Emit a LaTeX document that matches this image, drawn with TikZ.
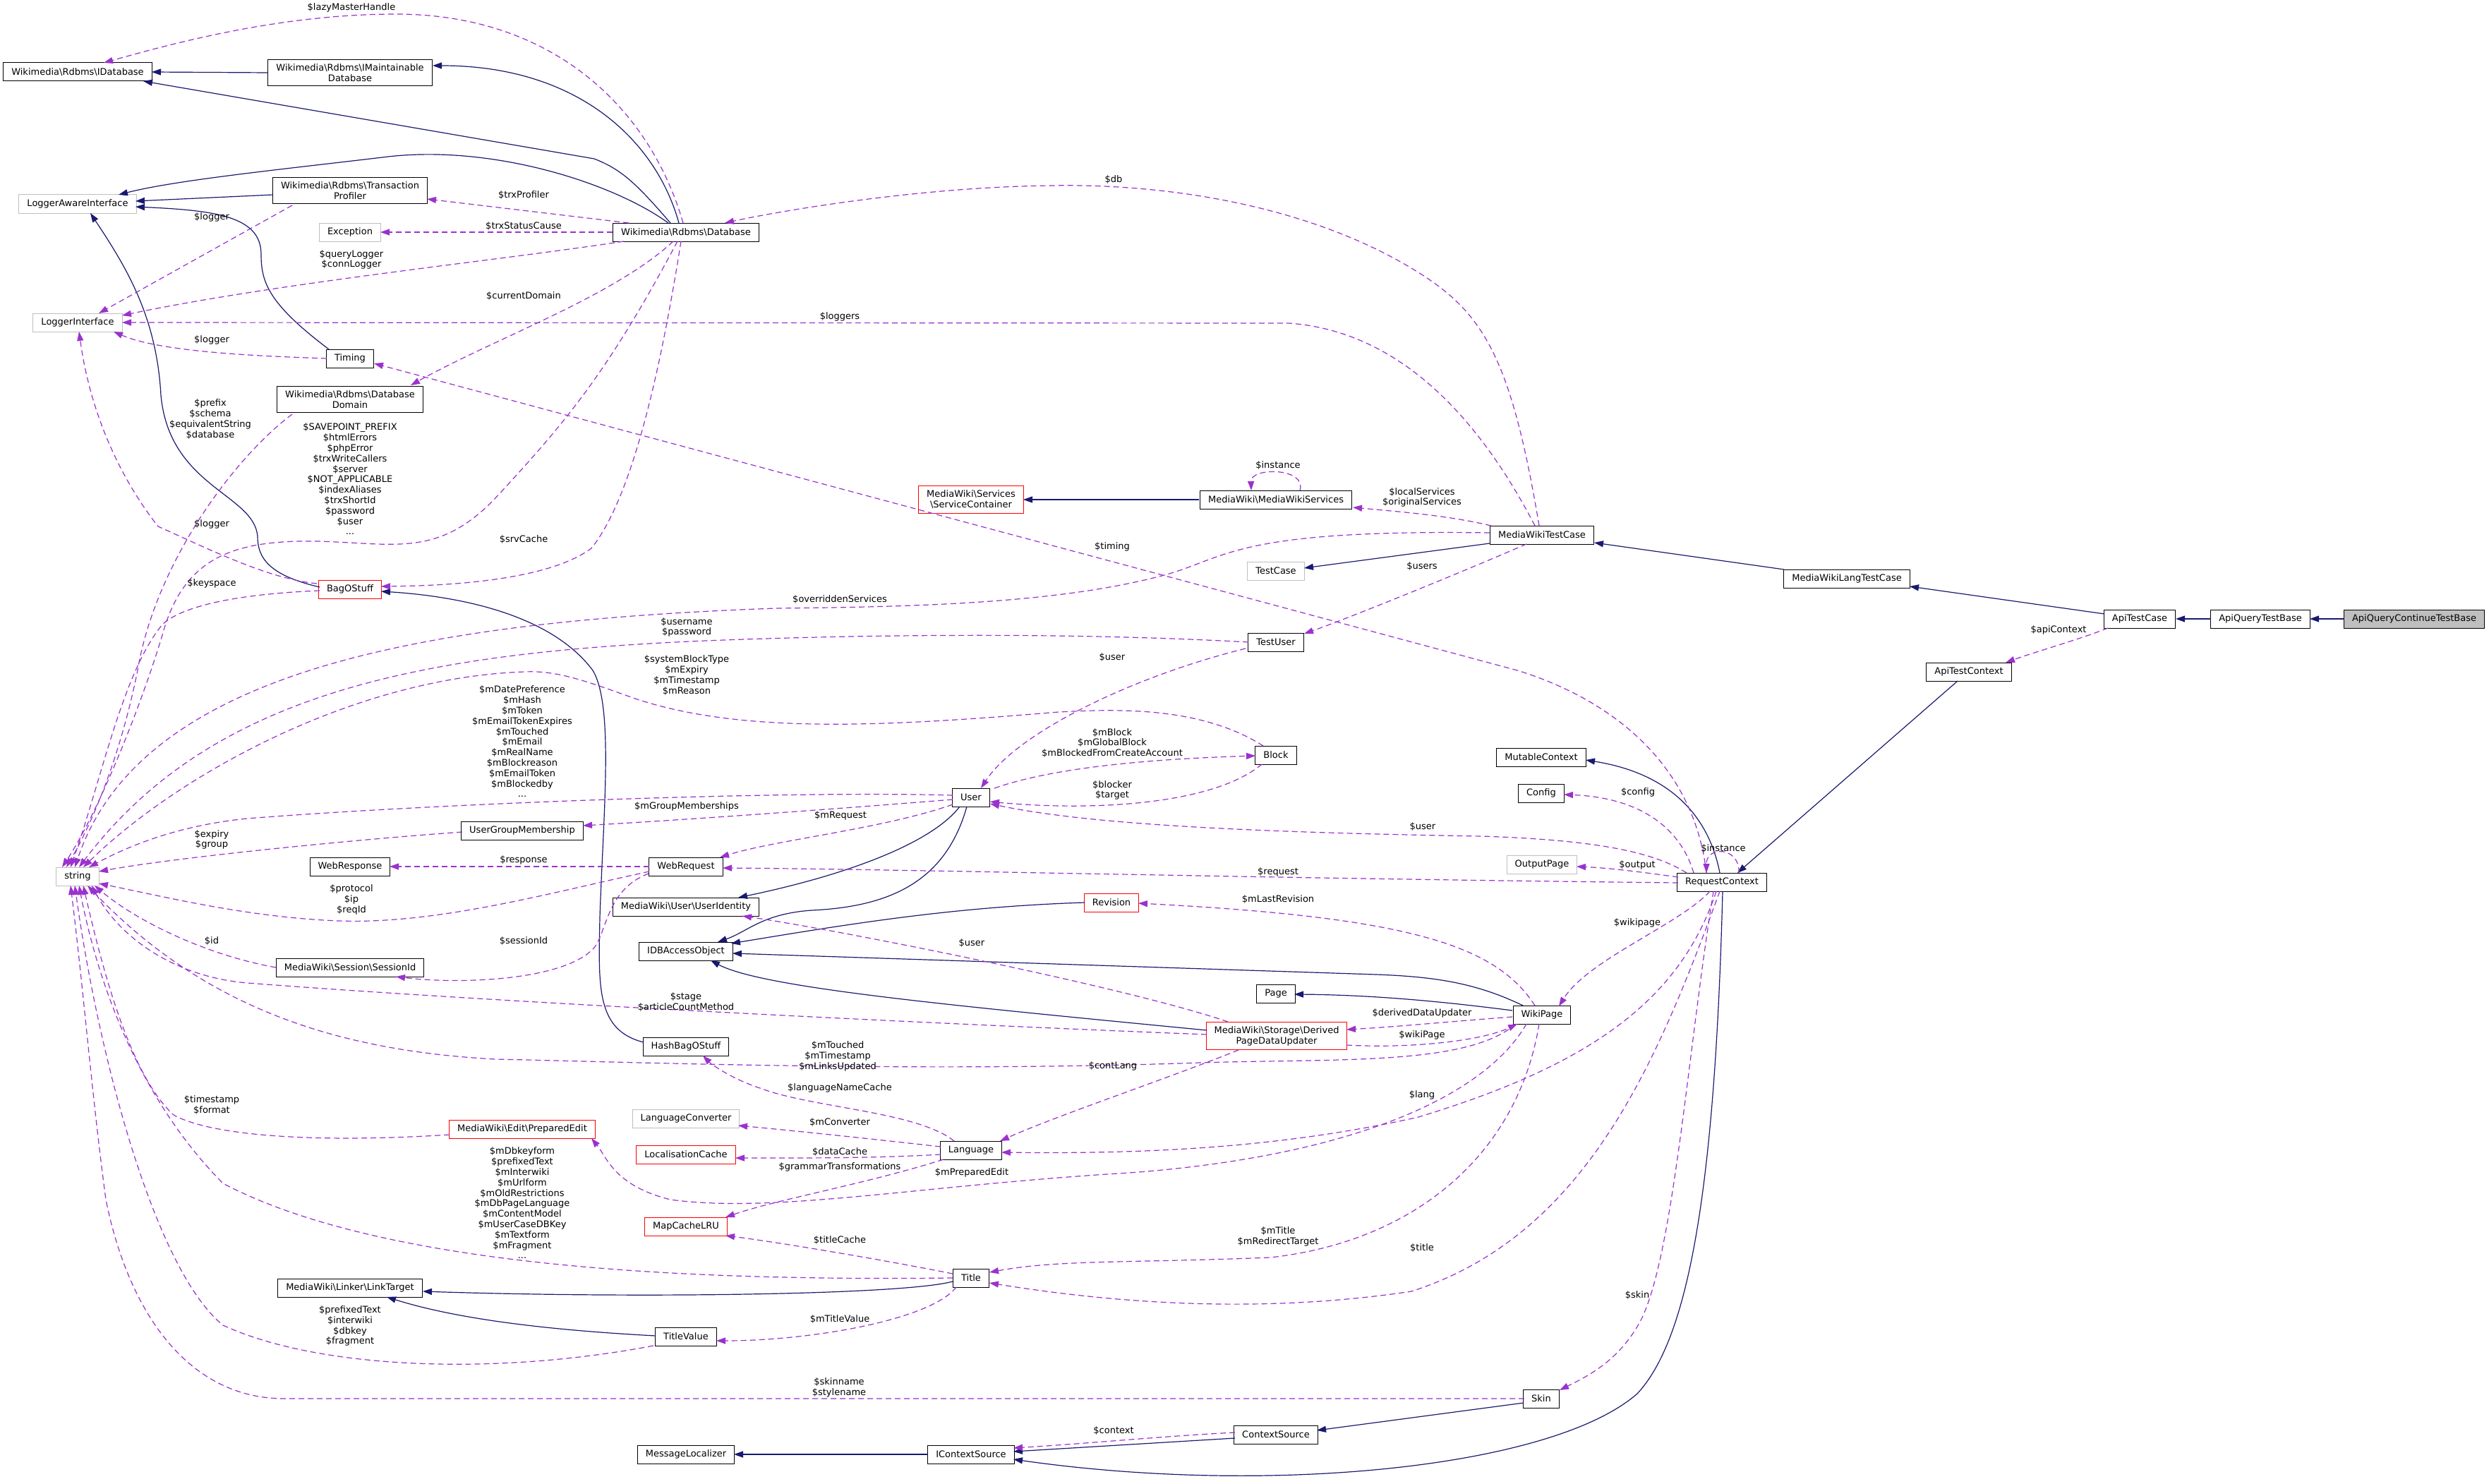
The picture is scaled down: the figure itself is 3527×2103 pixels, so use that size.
\documentclass[tikz,border=0pt]{standalone}
\usepackage{fontspec}
\setmainfont{DejaVu Sans}
\usetikzlibrary{calc,arrows.meta}
\definecolor{inhc}{HTML}{191970}
\definecolor{usec}{HTML}{9A32CD}
\definecolor{gry}{HTML}{BFBFBF}
\newcommand{\bsl}{\textbackslash{}}
\begin{document}
\begin{tikzpicture}[x=0.5pt,y=-0.5pt,font=\fontsize{6.5pt}{7.4pt}\selectfont]
\tikzset{
 cls/.style={draw=black,fill=white,line width=0.5pt,inner xsep=5.75pt,inner ysep=3.1pt,minimum height=13pt,align=center},
 gbox/.style={cls,draw=gry},
 rbox/.style={cls,draw=red},
 hbox/.style={cls,fill=gry},
 lab/.style={inner sep=0pt,align=center},
 inh/.style={draw=inhc,line width=0.6pt,-{Triangle[length=6.5pt,width=4.5pt]}},
 use/.style={draw=usec,line width=0.6pt,dash pattern=on 4pt off 2.5pt,-{Triangle[length=6.5pt,width=4.5pt]}}
}
\fill[white] (0,0) rectangle (3527,2103);
\useasboundingbox (0,0) rectangle (3527,2103);

% ---------- nodes ----------
\node[cls] (idb) at (110,102) {Wikimedia\bsl Rdbms\bsl IDatabase};
\node[cls] (imd) at (496,103) {Wikimedia\bsl Rdbms\bsl IMaintainable\\Database};
\node[gbox] (lai) at (110,289) {LoggerAwareInterface};
\node[cls] (tp) at (496,270) {Wikimedia\bsl Rdbms\bsl Transaction\\Profiler};
\node[gbox] (exc) at (496,329) {Exception};
\node[cls] (db) at (972,329) {Wikimedia\bsl Rdbms\bsl Database};
\node[gbox] (li) at (110,457) {LoggerInterface};
\node[cls] (tim) at (496,508) {Timing};
\node[cls] (dd) at (496,566) {Wikimedia\bsl Rdbms\bsl Database\\Domain};
\node[rbox] (bos) at (496,835) {BagOStuff};
\node[cls] (ugm) at (740,1177) {UserGroupMembership};
\node[gbox] (str) at (110,1242) {string};
\node[cls] (wresp) at (496,1228) {WebResponse};
\node[cls] (wreq) at (972,1228) {WebRequest};
\node[cls] (uid) at (972,1285) {MediaWiki\bsl User\bsl UserIdentity};
\node[cls] (idbao) at (972,1348) {IDBAccessObject};
\node[cls] (sid) at (496,1371) {MediaWiki\bsl Session\bsl SessionId};
\node[rbox] (msc) at (1376,708) {MediaWiki\bsl Services\\\bsl ServiceContainer};
\node[cls] (mws) at (1808,708) {MediaWiki\bsl MediaWikiServices};
\node[cls] (mwtc) at (2185,758) {MediaWikiTestCase};
\node[gbox] (tc) at (1808,809) {TestCase};
\node[cls] (tu) at (1808,910) {TestUser};
\node[cls] (blk) at (1808,1070) {Block};
\node[cls] (usr) at (1376,1130) {User};
\node[rbox] (rev) at (1575,1279) {Revision};
\node[cls] (mut) at (2184,1073) {MutableContext};
\node[cls] (cfg) at (2184,1124) {Config};
\node[gbox] (op) at (2185,1225) {OutputPage};
\node[cls] (rc) at (2440,1250) {RequestContext};
\node[cls] (mwltc) at (2617,820) {MediaWikiLangTestCase};
\node[cls] (atc) at (3032,877) {ApiTestCase};
\node[cls] (aqtb) at (3203,877) {ApiQueryTestBase};
\node[hbox] (aqctb) at (3421,877) {ApiQueryContinueTestBase};
\node[cls] (atcx) at (2790,952) {ApiTestContext};
\node[cls] (wp) at (2185,1438) {WikiPage};
\node[cls] (hbos) at (972,1483) {HashBagOStuff};
\node[gbox] (lconv) at (972,1585) {LanguageConverter};
\node[rbox] (pe) at (740,1600) {MediaWiki\bsl Edit\bsl PreparedEdit};
\node[rbox] (lcache) at (972,1636) {LocalisationCache};
\node[rbox] (mcl) at (972,1738) {MapCacheLRU};
\node[cls] (lt) at (496,1825) {MediaWiki\bsl Linker\bsl LinkTarget};
\node[cls] (tv) at (972,1894) {TitleValue};
\node[cls] (ml) at (972,2061) {MessageLocalizer};
\node[cls] (page) at (1808,1408) {Page};
\node[rbox] (dpdu) at (1809,1468) {MediaWiki\bsl Storage\bsl Derived\\PageDataUpdater};
\node[cls] (lang) at (1376,1630) {Language};
\node[cls] (title) at (1376,1811) {Title};
\node[cls] (skin) at (2184,1982) {Skin};
\node[cls] (cs) at (1808,2033) {ContextSource};
\node[cls] (ics) at (1376,2061) {IContextSource};

% ---------- inheritance ----------
\draw[inh] ($(imd)+(-116,0)$) -- ($(idb)+(105,0)$);
\draw[inh] ($(db)+(-22,-13)$) .. controls (900,258) and (880,240) .. (842,225) -- ($(idb)+(93,13)$);
\draw[inh] ($(db)+(-10,-13)$) .. controls (930,200) and (820,93) .. ($(imd)+(117,-10)$);
\draw[inh] ($(db)+(-25,-13)$) .. controls (870,260) and (700,205) .. (550,222) .. controls (400,240) and (250,255) .. ($(lai)+(58,-13)$);
\draw[inh] ($(tp)+(-109,6)$) -- ($(lai)+(82,-4)$);
\draw[inh] ($(tim)+(-30,-13)$) .. controls (380,430) and (370,400) .. (370,360) .. controls (370,305) and (300,298) .. ($(lai)+(82,4)$);
\draw[inh] ($(bos)+(-43,-3)$) .. controls (380,815) and (365,790) .. (365,760) .. controls (360,700) and (240,690) .. (228,560) .. controls (222,450) and (180,380) .. ($(lai)+(18,13)$);
\draw[inh] ($(hbos)+(-60,-6)$) .. controls (845,1460) and (848,1400) .. (850,1300) .. controls (855,1150) and (870,1000) .. (840,950) .. controls (780,870) and (650,845) .. ($(bos)+(44,3)$);
\draw[inh] ($(mws)+(-109,0)$) -- ($(msc)+(74,0)$);
\draw[inh] ($(mwtc)+(-74,12)$) -- ($(tc)+(40,-4)$);
\draw[inh] ($(mwltc)+(-89,-13)$) -- ($(mwtc)+(74,11)$);
\draw[inh] ($(atc)+(-50,-7)$) -- ($(mwltc)+(89,11)$);
\draw[inh] ($(aqtb)+(-70,0)$) -- ($(atc)+(51,0)$);
\draw[inh] ($(aqctb)+(-99,0)$) -- ($(aqtb)+(70,0)$);
\draw[inh] ($(atcx)+(-16,13)$) -- ($(rc)+(22,-13)$);
\draw[inh] ($(rc)+(-3,-13)$) .. controls (2420,1150) and (2360,1095) .. ($(mut)+(63,4)$);
\draw[inh] ($(rc)+(1,13)$) .. controls (2430,1700) and (2390,1900) .. (2320,1975) .. controls (2200,2080) and (1800,2120) .. ($(ics)+(60,7)$);
\draw[inh] ($(usr)+(-16,13)$) .. controls (1320,1195) and (1200,1240) .. ($(uid)+(74,-13)$);
\draw[inh] ($(usr)+(-6,13)$) .. controls (1340,1250) and (1260,1285) .. (1150,1290) .. controls (1080,1295) and (1060,1320) .. ($(idbao)+(45,-13)$);
\draw[inh] ($(rev)+(-38,0)$) .. controls (1350,1285) and (1200,1310) .. ($(idbao)+(64,-11)$);
\draw[inh] ($(wp)+(-27,-13)$) .. controls (2090,1392) and (2030,1384) .. (1950,1381) -- ($(idbao)+(66,3)$);
\draw[inh] ($(dpdu)+(-99,-8)$) .. controls (1350,1425) and (1080,1400) .. ($(idbao)+(35,13)$);
\draw[inh] ($(wp)+(-42,-6)$) .. controls (2050,1420) and (1950,1410) .. ($(page)+(26,1)$);
\draw[inh] ($(title)+(-26,5)$) .. controls (1280,1835) and (900,1840) .. ($(lt)+(103,5)$);
\draw[inh] ($(tv)+(-43,-1)$) .. controls (780,1885) and (650,1870) .. ($(lt)+(52,13)$);
\draw[inh] ($(skin)+(-25,6)$) -- ($(cs)+(58,-6)$);
\draw[inh] ($(cs)+(-58,5)$) -- ($(ics)+(60,-4)$);
\draw[inh] ($(ics)+(-61,0)$) -- ($(ml)+(68,0)$);

% ---------- usage ----------
\draw[use] ($(db)+(-4,-13)$) .. controls (920,150) and (780,20) .. (561,20) .. controls (400,20) and (250,60) .. ($(idb)+(37,-13)$);
\draw[use] ($(db)+(-81,-13)$) -- ($(tp)+(109,12)$);
\draw[use] ($(db)+(-104,0)$) -- ($(exc)+(43,0)$);
\draw[use] ($(db)+(-88,13)$) .. controls (700,370) and (400,400) .. ($(li)+(63,-10)$);
\draw[use] ($(db)+(-18,13)$) .. controls (870,420) and (700,480) .. ($(dd)+(86,-20)$);
\draw[use] ($(db)+(-12,13)$) .. controls (860,530) and (800,600) .. (700,708) .. controls (620,790) and (560,770) .. (450,767) .. controls (330,765) and (260,790) .. (230,900) .. controls (200,1000) and (140,1150) .. ($(str)+(-22,-13)$);
\draw[use] ($(db)+(-7,13)$) .. controls (940,500) and (900,700) .. (838,777) .. controls (780,820) and (650,830) .. ($(bos)+(44,-4)$);
\draw[use] ($(tp)+(-82,21)$) -- ($(li)+(30,-13)$);
\draw[use] ($(tim)+(-33,0)$) .. controls (380,505) and (230,500) .. ($(li)+(51,13)$);
\draw[use] ($(dd)+(-82,21)$) .. controls (330,650) and (220,800) .. (195,950) .. controls (175,1050) and (140,1150) .. ($(str)+(-16,-13)$);
\draw[use] ($(bos)+(-47,-8)$) .. controls (380,820) and (300,780) .. (224,746) .. controls (180,690) and (130,600) .. ($(li)+(2,13)$);
\draw[use] ($(bos)+(-43,2)$) .. controls (380,840) and (270,850) .. (231,884) .. controls (175,950) and (145,1100) .. ($(str)+(-10,-13)$);
\draw[use] ($(mwtc)+(-4,-13)$) .. controls (2140,500) and (2100,440) .. (2000,380) .. controls (1850,290) and (1650,260) .. (1490,263) .. controls (1300,265) and (1100,300) .. ($(db)+(55,-13)$);
\draw[use] ($(mwtc)+(-10,-13)$) .. controls (2110,620) and (2000,470) .. (1826,458) -- ($(li)+(63,0)$);
\draw[use] ($(mwtc)+(-72,-13)$) .. controls (2050,730) and (1980,725) .. ($(mws)+(109,11)$);
\draw[use] ($(mws)+(34,-13)$) .. controls (1852,662) and (1772,662) .. ($(mws)+(-35,-13)$);
\draw[use] ($(mwtc)+(-74,-3)$) .. controls (1750,750) and (1740,790) .. (1650,815) .. controls (1500,855) and (1300,860) .. (1100,862) .. controls (600,880) and (200,950) .. ($(str)+(-4,-13)$);
\draw[use] ($(mwtc)+(-22,13)$) .. controls (2050,820) and (1900,880) .. ($(tu)+(40,-12)$);
\draw[use] ($(rc)+(-22,-13)$) .. controls (2400,1080) and (2280,990) .. (2150,950) -- ($(tim)+(34,7)$);
\draw[use] ($(tu)+(-39,0)$) .. controls (1500,895) and (1200,900) .. (1000,908) .. controls (600,925) and (300,980) .. ($(str)+(2,-13)$);
\draw[use] ($(tu)+(-43,9)$) .. controls (1600,960) and (1440,1040) .. ($(usr)+(14,-13)$);
\draw[use] ($(blk)+(-18,-13)$) .. controls (1700,1000) and (1580,1005) .. (1500,1009) .. controls (1250,1030) and (1050,1040) .. (900,990) .. controls (830,965) and (790,950) .. (744,952) .. controls (500,960) and (250,1100) .. ($(str)+(8,-13)$);
\draw[use] ($(usr)+(33,-13)$) .. controls (1500,1085) and (1650,1075) .. ($(blk)+(-29,1)$);
\draw[use] ($(blk)+(-20,13)$) .. controls (1720,1140) and (1550,1150) .. ($(usr)+(27,6)$);
\draw[use] ($(usr)+(-26,-3)$) .. controls (1100,1120) and (600,1140) .. (350,1160) .. controls (250,1170) and (180,1200) .. ($(str)+(16,-13)$);
\draw[use] ($(usr)+(-26,3)$) .. controls (1200,1145) and (1000,1160) .. ($(ugm)+(86,-7)$);
\draw[use] ($(usr)+(-26,10)$) .. controls (1250,1175) and (1100,1190) .. ($(wreq)+(48,-13)$);
\draw[use] ($(ugm)+(-85,2)$) .. controls (500,1190) and (250,1215) .. ($(str)+(30,-7)$);
\draw[use] ($(wreq)+(-52,0)$) -- ($(wresp)+(56,0)$);
\draw[use] ($(wreq)+(-52,7)$) .. controls (780,1265) and (620,1310) .. (480,1305) .. controls (350,1300) and (230,1270) .. ($(str)+(30,10)$);
\draw[use] ($(wreq)+(-53,10)$) .. controls (860,1260) and (860,1320) .. (842,1343) .. controls (800,1390) and (650,1395) .. ($(sid)+(65,13)$);
\draw[use] ($(sid)+(-105,0)$) .. controls (300,1355) and (200,1310) .. ($(str)+(24,13)$);
\draw[use] ($(rc)+(-50,-13)$) .. controls (2340,1205) and (2250,1190) .. (2100,1185) .. controls (1800,1180) and (1550,1170) .. ($(usr)+(27,9)$);
\draw[use] ($(rc)+(-40,-13)$) .. controls (2380,1170) and (2320,1130) .. ($(cfg)+(32,2)$);
\draw[use] ($(rc)+(24,-13)$) .. controls (2466,1200) and (2418,1198) .. ($(rc)+(-22,-13)$);
\draw[use] ($(rc)+(-62,-7)$) .. controls (2320,1235) and (2280,1230) .. ($(op)+(49,3)$);
\draw[use] ($(rc)+(-62,1)$) .. controls (1800,1245) and (1300,1232) .. ($(wreq)+(52,2)$);
\draw[use] ($(rc)+(-17,13)$) .. controls (2380,1310) and (2250,1360) .. ($(wp)+(24,-12)$);
\draw[use] ($(rc)+(-8,13)$) .. controls (2380,1420) and (2250,1510) .. (2010,1583) .. controls (1800,1630) and (1600,1635) .. ($(lang)+(43,3)$);
\draw[use] ($(rc)+(-3,13)$) .. controls (2350,1500) and (2250,1750) .. (2000,1830) .. controls (1800,1860) and (1600,1850) .. ($(title)+(26,7)$);
\draw[use] ($(rc)+(-12,13)$) .. controls (2390,1500) and (2370,1800) .. (2320,1880) .. controls (2290,1930) and (2250,1950) .. ($(skin)+(26,-12)$);
\draw[use] ($(wp)+(-10,-13)$) .. controls (2120,1340) and (2000,1300) .. ($(rev)+(38,1)$);
\draw[use] ($(dpdu)+(-69,-20)$) .. controls (1600,1400) and (1200,1320) .. ($(uid)+(80,13)$);
\draw[use] ($(wp)+(-42,3)$) .. controls (2050,1448) and (1980,1455) .. ($(dpdu)+(99,-9)$);
\draw[use] ($(dpdu)+(99,13)$) .. controls (2000,1486) and (2100,1475) .. ($(wp)+(-35,13)$);
\draw[use] ($(dpdu)+(-99,-2)$) .. controls (1300,1450) and (700,1420) .. (351,1393) .. controls (250,1385) and (170,1330) .. ($(str)+(20,13)$);
\draw[use] ($(wp)+(-37,13)$) .. controls (2080,1510) and (1900,1500) .. (1700,1506) .. controls (1300,1520) and (900,1505) .. (702,1501) .. controls (500,1490) and (300,1440) .. ($(str)+(14,13)$);
\draw[use] ($(dpdu)+(-54,20)$) .. controls (1650,1530) and (1500,1580) .. ($(lang)+(41,-13)$);
\draw[use] ($(lang)+(-24,-13)$) .. controls (1300,1575) and (1150,1570) .. (1077,1542) .. controls (1040,1530) and (1010,1510) .. ($(hbos)+(24,13)$);
\draw[use] ($(lang)+(-43,-5)$) .. controls (1200,1610) and (1100,1600) .. ($(lconv)+(74,10)$);
\draw[use] ($(lang)+(-43,6)$) .. controls (1230,1642) and (1100,1641) .. ($(lcache)+(70,5)$);
\draw[use] ($(lang)+(-39,13)$) .. controls (1230,1677) and (1100,1700) .. ($(mcl)+(56,-13)$);
\draw[use] ($(wp)+(-22,13)$) .. controls (2100,1560) and (1900,1640) .. (1600,1662) .. controls (1300,1680) and (1100,1720) .. (950,1700) .. controls (870,1680) and (860,1640) .. ($(pe)+(98,13)$);
\draw[use] ($(pe)+(-103,8)$) .. controls (450,1620) and (300,1610) .. (246,1580) .. controls (180,1520) and (140,1350) .. ($(str)+(8,13)$);
\draw[use] ($(wp)+(-4,13)$) .. controls (2150,1640) and (2000,1760) .. (1800,1782) .. controls (1600,1790) and (1500,1785) .. ($(title)+(26,-8)$);
\draw[use] ($(title)+(-26,-6)$) .. controls (1250,1785) and (1100,1760) .. ($(mcl)+(56,13)$);
\draw[use] ($(title)+(-26,0)$) .. controls (1000,1815) and (550,1800) .. (316,1677) .. controls (200,1560) and (140,1400) .. ($(str)+(2,13)$);
\draw[use] ($(title)+(-21,13)$) .. controls (1320,1870) and (1150,1900) .. ($(tv)+(43,6)$);
\draw[use] ($(tv)+(-46,13)$) .. controls (700,1950) and (450,1940) .. (316,1878) .. controls (220,1800) and (140,1500) .. ($(str)+(-4,13)$);
\draw[use] ($(skin)+(-24,0)$) -- (400,1982) .. controls (260,1980) and (180,1850) .. (150,1700) .. controls (130,1550) and (118,1400) .. ($(str)+(-10,13)$);
\draw[use] ($(cs)+(-58,-3)$) .. controls (1650,2035) and (1550,2045) .. ($(ics)+(60,-9)$);
\draw[use] ($(atc)+(-45,13)$) .. controls (2950,905) and (2880,925) .. ($(atcx)+(52,-13)$);

% ---------- labels ----------
\node[lab] (l1) at (498,11) {\$lazyMasterHandle};
\node[lab] (l2) at (742,277) {\$trxProfiler};
\node[lab] (l3) at (742,321) {\$trxStatusCause};
\node[lab] (l4) at (498,368) {\$queryLogger\\\$connLogger};
\node[lab] (l5) at (742,420) {\$currentDomain};
\node[lab] (l6) at (496,679) {\$SAVEPOINT\_PREFIX\\\$htmlErrors\\\$phpError\\\$trxWriteCallers\\\$server\\\$NOT\_APPLICABLE\\\$indexAliases\\\$trxShortId\\\$password\\\$user\\...};
\node[lab] (l7) at (742,765) {\$srvCache};
\node[lab] (l8) at (300,308) {\$logger};
\node[lab] (l9) at (300,482) {\$logger};
\node[lab] (l10) at (298,594) {\$prefix\\\$schema\\\$equivalentString\\\$database};
\node[lab] (l11) at (300,743) {\$logger};
\node[lab] (l12) at (300,827) {\$keyspace};
\node[lab] (l13) at (1578,255) {\$db};
\node[lab] (l14) at (1190,449) {\$loggers};
\node[lab] (l15) at (2015,705) {\$localServices\\\$originalServices};
\node[lab] (l16) at (1811,660) {\$instance};
\node[lab] (l17) at (1190,850) {\$overriddenServices};
\node[lab] (l18) at (2015,803) {\$users};
\node[lab] (l19) at (1576,775) {\$timing};
\node[lab] (l20) at (973,889) {\$username\\\$password};
\node[lab] (l21) at (1576,932) {\$user};
\node[lab] (l22) at (973,957) {\$systemBlockType\\\$mExpiry\\\$mTimestamp\\\$mReason};
\node[lab] (l23) at (1576,1053) {\$mBlock\\\$mGlobalBlock\\\$mBlockedFromCreateAccount};
\node[lab] (l24) at (1576,1120) {\$blocker\\\$target};
\node[lab] (l25) at (740,1051) {\$mDatePreference\\\$mHash\\\$mToken\\\$mEmailTokenExpires\\\$mTouched\\\$mEmail\\\$mRealName\\\$mBlockreason\\\$mEmailToken\\\$mBlockedby\\...};
\node[lab] (l26) at (973,1143) {\$mGroupMemberships};
\node[lab] (l27) at (1191,1156) {\$mRequest};
\node[lab] (l28) at (300,1190) {\$expiry\\\$group};
\node[lab] (l29) at (742,1219) {\$response};
\node[lab] (l30) at (498,1275) {\$protocol\\\$ip\\\$reqId};
\node[lab] (l31) at (300,1334) {\$id};
\node[lab] (l32) at (742,1334) {\$sessionId};
\node[lab] (l33) at (2016,1172) {\$user};
\node[lab] (l34) at (2321,1123) {\$config};
\node[lab] (l35) at (2442,1203) {\$instance};
\node[lab] (l36) at (2320,1226) {\$output};
\node[lab] (l37) at (1811,1236) {\$request};
\node[lab] (l38) at (2320,1308) {\$wikipage};
\node[lab] (l39) at (2015,1552) {\$lang};
\node[lab] (l40) at (2015,1768) {\$title};
\node[lab] (l41) at (2320,1835) {\$skin};
\node[lab] (l42) at (1811,1275) {\$mLastRevision};
\node[lab] (l43) at (1377,1337) {\$user};
\node[lab] (l44) at (2015,1436) {\$derivedDataUpdater};
\node[lab] (l45) at (2015,1467) {\$wikiPage};
\node[lab] (l46) at (972,1420) {\$stage\\\$articleCountMethod};
\node[lab] (l47) at (1187,1497) {\$mTouched\\\$mTimestamp\\\$mLinksUpdated};
\node[lab] (l48) at (1577,1511) {\$contLang};
\node[lab] (l49) at (1190,1542) {\$languageNameCache};
\node[lab] (l50) at (1190,1590) {\$mConverter};
\node[lab] (l51) at (1190,1632) {\$dataCache};
\node[lab] (l52) at (1190,1654) {\$grammarTransformations};
\node[lab] (l53) at (1377,1662) {\$mPreparedEdit};
\node[lab] (l54) at (300,1566) {\$timestamp\\\$format};
\node[lab] (l55) at (740,1705) {\$mDbkeyform\\\$prefixedText\\\$mInterwiki\\\$mUrlform\\\$mOldRestrictions\\\$mDbPageLanguage\\\$mContentModel\\\$mUserCaseDBKey\\\$mTextform\\\$mFragment\\...};
\node[lab] (l56) at (1811,1752) {\$mTitle\\\$mRedirectTarget};
\node[lab] (l57) at (1190,1757) {\$titleCache};
\node[lab] (l58) at (1190,1869) {\$mTitleValue};
\node[lab] (l59) at (496,1879) {\$prefixedText\\\$interwiki\\\$dbkey\\\$fragment};
\node[lab] (l60) at (1189,1966) {\$skinname\\\$stylename};
\node[lab] (l61) at (1578,2027) {\$context};
\node[lab] (l62) at (2917,893) {\$apiContext};
\end{tikzpicture}
\end{document}
